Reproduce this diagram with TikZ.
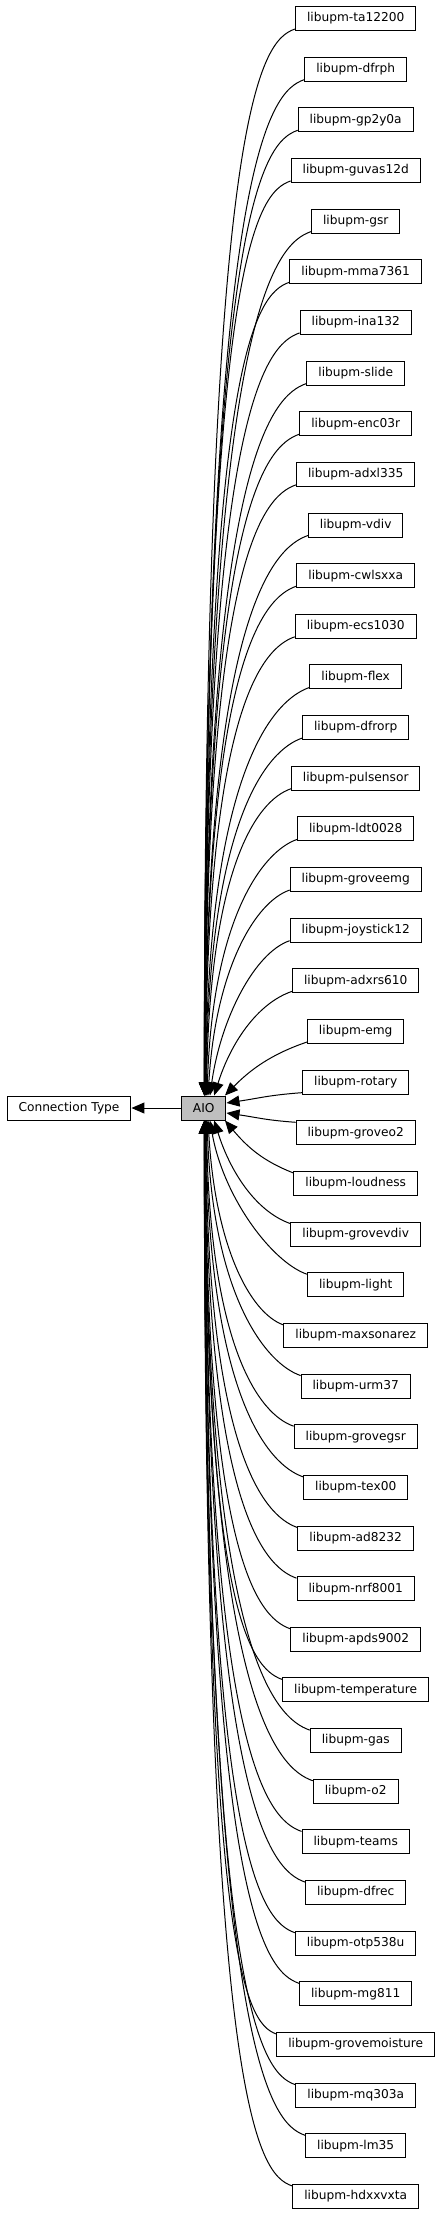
\documentclass[tikz,border=0pt]{standalone}
\usepackage{fontspec}
\setmainfont{DejaVu Sans}
\usetikzlibrary{arrows.meta,calc}
\begin{document}
\begin{tikzpicture}[x=1pt,y=-1pt,
  box/.style={draw=black,line width=1pt,minimum height=24pt,inner xsep=11.5pt,inner ysep=0pt,
    font=\fontsize{12.2}{14}\selectfont,fill=white},
  cur/.style={box,fill=black!25},
  edge/.style={line width=1pt,-{Triangle[length=13pt,width=11pt]}}
]
\useasboundingbox (0,0) rectangle (443,2216);
\node[cur] (aio) at (203.7,1108) {AIO};
\node[box] (ct) at (69,1108) {Connection Type};
\draw[edge] (aio) -- (ct);
\foreach \i/\n in {0/ta12200,1/dfrph,2/gp2y0a,3/guvas12d,4/gsr,5/mma7361,6/ina132,7/slide,
  8/enc03r,9/adxl335,10/vdiv,11/cwlsxxa,12/ecs1030,13/flex,14/dfrorp,15/pulsensor,16/ldt0028,
  17/groveemg,18/joystick12,19/adxrs610,20/emg,21/rotary,22/groveo2,23/loudness,24/grovevdiv,
  25/light,26/maxsonarez,27/urm37,28/grovegsr,29/tex00,30/ad8232,31/nrf8001,32/apds9002,
  33/temperature,34/gas,35/o2,36/teams,37/dfrec,38/otp538u,39/mg811,40/grovemoisture,
  41/mq303a,42/lm35,43/hdxxvxta}{
  \node[box] (n\i) at (355.7,{18.5+50.65*\i}) {libupm-\n};
}
\path (aio.east); \pgfgetlastxy{\aex}{\aey}
\path (aio.north east); \pgfgetlastxy{\anex}{\aney}
\foreach \i in {0,...,43}{
  \ifnum\i<22
    \pgfmathtruncatemacro\k{22-\i}
    \path (n\i.south west); \pgfgetlastxy{\sxx}{\syy}
    \pgfmathsetmacro\sx{\sxx}
    \pgfmathsetmacro\sy{\syy+2}
    \path (aio.north); \pgfgetlastxy{\axx}{\ayy}
    \def\sg{1}
  \else
    \pgfmathtruncatemacro\k{\i-21}
    \path (n\i.north west); \pgfgetlastxy{\sxx}{\syy}
    \pgfmathsetmacro\sx{\sxx}
    \pgfmathsetmacro\sy{\syy-2}
    \path (aio.south); \pgfgetlastxy{\axx}{\ayy}
    \def\sg{-1}
  \fi
  \ifnum\k=1
    \pgfmathsetmacro\ex{\aex}
    \pgfmathsetmacro\ey{\aey+\sg*5}
  \else\ifnum\k=2
    \pgfmathsetmacro\ex{\anex-1.5}
    \pgfmathsetmacro\ey{\ayy}
  \else
    \pgfmathsetmacro\ex{\axx+16/(\k-1.5)-0.2}
    \pgfmathsetmacro\ey{\ayy}
  \fi\fi
  \pgfmathsetmacro\dy{\sg*(\sy-\ey)}
  \pgfmathsetmacro\dx{\sx-\ex}
  \pgfmathsetmacro\cax{\sx-min(35,0.45*\dx)}
  \pgfmathsetmacro\cay{\sy-\sg*min(12,0.25*\dy)}
  \pgfmathsetmacro\cbx{\ex+\dx*0.5*exp(-\dy/120)}
  \pgfmathsetmacro\cby{\sy-\sg*min(80,0.5*\dy)}
  \coordinate (st\i) at (\sx pt,\sy pt);
  \coordinate (en\i) at (\ex pt,\ey pt);
  \draw[edge] (st\i) .. controls (\cax pt,\cay pt) and (\cbx pt,\cby pt) .. (en\i);
}
\end{tikzpicture}
\end{document}
